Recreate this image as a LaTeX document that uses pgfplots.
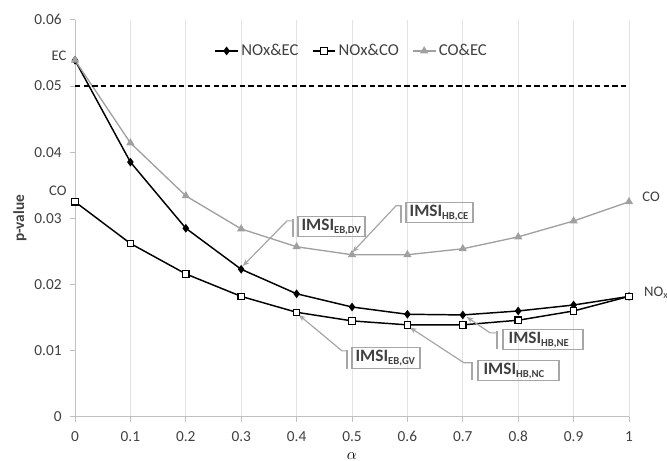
\documentclass[border=0pt]{standalone}
\usepackage{pgfplots}
\pgfplotsset{compat=1.18}
\usepackage{fontspec}
\setmainfont{Carlito}
\usetikzlibrary{arrows.meta}
\definecolor{lgrey}{HTML}{A6A6A6}
\definecolor{ser}{HTML}{A0A0A0}
\definecolor{gridc}{HTML}{E3E3E3}
\definecolor{axc}{HTML}{C0C0C0}
\definecolor{txt}{HTML}{404040}
\newcommand{\imsi}[1]{{\bfseries\fontsize{13}{15}\selectfont IMSI\raisebox{-0.4ex}{\fontsize{8}{9}\selectfont #1}}}
\tikzset{callout/.style={lgrey, line width=0.9pt},
  calarrow/.style={lgrey, line width=0.9pt, -{Stealth[length=5pt,width=4pt]}}}

\begin{document}
\begin{tikzpicture}[font=\fontsize{11}{13}\selectfont]
\begin{axis}[
  scale only axis, width=415.5pt, height=297.75pt,
  xmin=0, xmax=1, ymin=0, ymax=0.06,
  clip=false,
  scaled y ticks=false, scaled x ticks=false,
  axis lines*=left,
  axis line style={axc, line width=0.6pt},
  tick style={axc, line width=0.6pt},
  tick align=outside, major tick length=3.5pt,
  xtick={0,0.1,0.2,0.3,0.4,0.5,0.6,0.7,0.8,0.9,1},
  xticklabels={\textrm{0},\textrm{0.1},\textrm{0.2},\textrm{0.3},\textrm{0.4},\textrm{0.5},\textrm{0.6},\textrm{0.7},\textrm{0.8},\textrm{0.9},\textrm{1}},
  ytick={0,0.01,0.02,0.03,0.04,0.05,0.06},
  yticklabels={\textrm{0},\textrm{0.01},\textrm{0.02},\textrm{0.03},\textrm{0.04},\textrm{0.05},\textrm{0.06}},
  /pgf/number format/assume math mode=true,
  tick label style={text=txt, font=\fontsize{11.5}{13}\selectfont},
  xticklabel style={inner ysep=1pt, yshift=-6.3pt},
  yticklabel style={xshift=-3pt},
  xmajorgrids, grid style={gridc, line width=0.6pt},
  legend style={at={(axis cs:0.5,0.0553)}, anchor=center, draw=none, fill=none,
    font=\fontsize{12.5}{14}\selectfont, text=txt,
    /tikz/every even column/.append style={column sep=8pt}},
  legend columns=3,
]
\addplot[black, line width=1.1pt, mark=diamond*, mark size=2.4pt, mark options={fill=black}]
  coordinates {(0,0.0539)(0.1,0.0385)(0.2,0.0285)(0.3,0.0223)(0.4,0.0186)(0.5,0.0166)(0.6,0.0155)(0.7,0.0154)(0.8,0.0160)(0.9,0.0169)(1,0.0182)};
\addlegendentry{NOx\&EC}
\addplot[black, line width=1.1pt, mark=square*, mark size=2.4pt, mark options={fill=white, line width=0.8pt}]
  coordinates {(0,0.0325)(0.1,0.0262)(0.2,0.0216)(0.3,0.0182)(0.4,0.0158)(0.5,0.0145)(0.6,0.0139)(0.7,0.0139)(0.8,0.0146)(0.9,0.0160)(1,0.0182)};
\addlegendentry{NOx\&CO}
\addplot[ser, line width=1pt, mark=triangle*, mark size=2.6pt, mark options={fill=ser}]
  coordinates {(0,0.0539)(0.1,0.0414)(0.2,0.0334)(0.3,0.0284)(0.4,0.0257)(0.5,0.0245)(0.6,0.0245)(0.7,0.0254)(0.8,0.0272)(0.9,0.0296)(1,0.0325)};
\addlegendentry{CO\&EC}
\addplot[black, line width=1.1pt, dash pattern=on 4pt off 2.5pt, forget plot] coordinates {(0,0.05)(1,0.05)};

% end labels
\node[text=txt] at (axis cs:-0.029,0.0546) {EC};
\node[text=txt] at (axis cs:-0.031,0.0342) {CO};
\node[text=txt] at (axis cs:1.040,0.0333) {CO};
\node[text=txt, anchor=west, inner sep=0pt] at (axis cs:1.027,0.0187) {NO\textsubscript{x}};

% axis labels
\node[rotate=90, font=\bfseries\fontsize{11.5}{13}\selectfont, text=txt] at (axis cs:-0.0993,0.030) {p-value};
\node[anchor=north, inner sep=0pt, font=\fontsize{13}{15}\selectfont] at (axis cs:0.5,-0.0053) {$\alpha$};

% callouts
% EB,DV
\draw[callout] (axis cs:0.4025,0.03022) rectangle (axis cs:0.5235,0.02720);
\node[anchor=west, text=txt, inner xsep=2.5pt] at (axis cs:0.4025,0.02871) {\imsi{EB,DV}};
\draw[callout] (axis cs:0.3935,0.02992) -- (axis cs:0.3935,0.02720);
\draw[calarrow] (axis cs:0.3935,0.02962) -- (axis cs:0.3827,0.02962) -- (axis cs:0.303,0.0228);
% HB,CE
\draw[callout] (axis cs:0.5975,0.03234) rectangle (axis cs:0.7184,0.02932);
\node[anchor=west, text=txt, inner xsep=2.5pt] at (axis cs:0.5975,0.03083) {\imsi{HB,CE}};
\draw[callout] (axis cs:0.5884,0.03204) -- (axis cs:0.5884,0.02932);
\draw[calarrow] (axis cs:0.5884,0.03189) -- (axis cs:0.5794,0.03189) -- (axis cs:0.501,0.0249);
% EB,GV
\draw[callout] (axis cs:0.5,0.01043) rectangle (axis cs:0.6227,0.00725);
\node[anchor=west, text=txt, inner xsep=2.5pt] at (axis cs:0.5,0.00884) {\imsi{EB,GV}};
\draw[callout] (axis cs:0.4910,0.01013) -- (axis cs:0.4910,0.00725);
\draw[calarrow] (axis cs:0.4910,0.00997) -- (axis cs:0.4819,0.00997) -- (axis cs:0.404,0.0154);
% HB,NC
\draw[callout] (axis cs:0.7274,0.00846) rectangle (axis cs:0.8736,0.00544);
\node[anchor=west, text=txt, inner xsep=4pt] at (axis cs:0.7274,0.00695) {\imsi{HB,NC}};
\draw[callout] (axis cs:0.7166,0.00831) -- (axis cs:0.7166,0.00559);
\draw[calarrow] (axis cs:0.7166,0.00816) -- (axis cs:0.7022,0.00816) -- (axis cs:0.6047,0.0135);
% HB,NE
\draw[callout] (axis cs:0.7726,0.01315) rectangle (axis cs:0.9170,0.01013);
\node[anchor=west, text=txt, inner xsep=4pt] at (axis cs:0.7726,0.01164) {\imsi{HB,NE}};
\draw[callout] (axis cs:0.7617,0.01300) -- (axis cs:0.7617,0.01028);
\draw[calarrow] (axis cs:0.7617,0.01269) -- (axis cs:0.7491,0.01269) -- (axis cs:0.707,0.0151);

\coordinate (BL) at (axis cs:-0.1354,-0.00665);
\coordinate (TR) at (axis cs:1.0686,0.0630);
\end{axis}
\pgfresetboundingbox
\path[use as bounding box] (BL) rectangle (TR);
\end{tikzpicture}
\end{document}
